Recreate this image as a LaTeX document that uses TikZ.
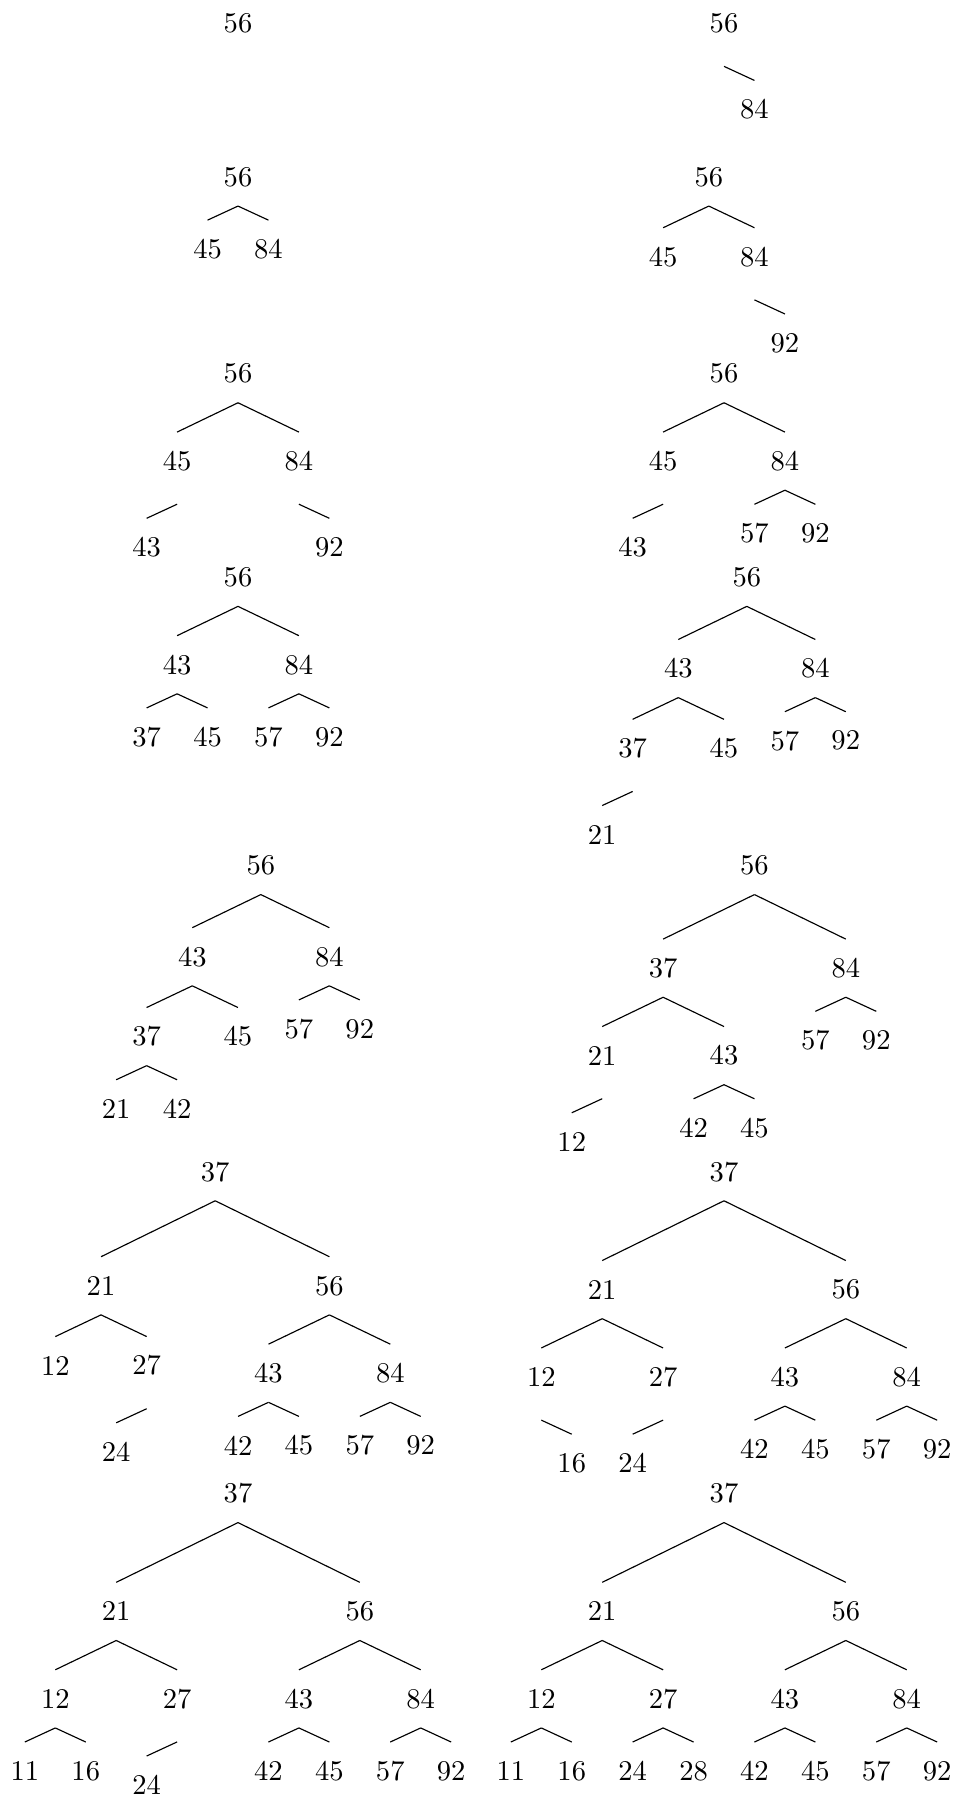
\documentclass[tikz,border=0pt]{standalone}
\usetikzlibrary{calc}
% one unit = one pixel step of the layout; y grows downwards
\def\uu{30.45}% horizontal unit between sibling slots
\tikzset{
  nd/.style={inner sep=0pt, minimum height=19.95pt, font=\fontsize{10}{12}\selectfont},
  link/.style={line width=0.4pt}
}
% child of a node that has two children
\newcommand\twokid[4]{%
  \node[nd] (#2) at ($(#1)+({#3*\uu},{57+abs(#3)*\uu/2})$) {#4};
  \draw[link] (#1.south) -- (#2.north);}
% only child of its parent: sits lower, edge starts lower
\newcommand\onekid[4]{%
  \node[nd] (#2) at ($(#1)+({#3*\uu},{71+abs(#3)*\uu/2})$) {#4};
  \draw[link] ([yshift=-4.9pt]#1.south) -- (#2.north);}
\begin{document}
\begin{tikzpicture}[x=0.35pt,y=-0.35pt]
\useasboundingbox (0,0) rectangle (963,1795);
\def\Ra{23.3}\def\Rb{177}\def\Rc{373.7}\def\Rd{577.3}
\def\Re{865.5}\def\Rf{1171.7}\def\Rg{1493.5}

% ---- row 1
\node[nd] (A56) at (238,\Ra) {56};

\node[nd] (B56) at (724,\Ra) {56};
\onekid{B56}{B84}{1}{84}

% ---- row 2
\node[nd] (C56) at (238,\Rb) {56};
\twokid{C56}{C45}{-1}{45}
\twokid{C56}{C84}{1}{84}

\node[nd] (D56) at (708.8,\Rb) {56};
\twokid{D56}{D45}{-1.5}{45}
\twokid{D56}{D84}{1.5}{84}
\onekid{D84}{D92}{1}{92}

% ---- row 3
\node[nd] (E56) at (238,\Rc) {56};
\twokid{E56}{E45}{-2}{45}
\twokid{E56}{E84}{2}{84}
\onekid{E45}{E43}{-1}{43}
\onekid{E84}{E92}{1}{92}

\node[nd] (F56) at (724,\Rc) {56};
\twokid{F56}{F45}{-2}{45}
\twokid{F56}{F84}{2}{84}
\onekid{F45}{F43}{-1}{43}
\twokid{F84}{F57}{-1}{57}
\twokid{F84}{F92}{1}{92}

% ---- row 4
\node[nd] (G56) at (238,\Rd) {56};
\twokid{G56}{G43}{-2}{43}
\twokid{G56}{G84}{2}{84}
\twokid{G43}{G37}{-1}{37}
\twokid{G43}{G45}{1}{45}
\twokid{G84}{G57}{-1}{57}
\twokid{G84}{G92}{1}{92}

\node[nd] (H56) at (746.8,\Rd) {56};
\twokid{H56}{H43}{-2.25}{43}
\twokid{H56}{H84}{2.25}{84}
\twokid{H43}{H37}{-1.5}{37}
\twokid{H43}{H45}{1.5}{45}
\twokid{H84}{H57}{-1}{57}
\twokid{H84}{H92}{1}{92}
\onekid{H37}{H21}{-1}{21}

% ---- row 5
\node[nd] (I56) at (260.8,\Re) {56};
\twokid{I56}{I43}{-2.25}{43}
\twokid{I56}{I84}{2.25}{84}
\twokid{I43}{I37}{-1.5}{37}
\twokid{I43}{I45}{1.5}{45}
\twokid{I84}{I57}{-1}{57}
\twokid{I84}{I92}{1}{92}
\twokid{I37}{I21}{-1}{21}
\twokid{I37}{I42}{1}{42}

\node[nd] (J56) at (754.45,\Re) {56};
\twokid{J56}{J37}{-3}{37}
\twokid{J56}{J84}{3}{84}
\twokid{J37}{J21}{-2}{21}
\twokid{J37}{J43}{2}{43}
\twokid{J84}{J57}{-1}{57}
\twokid{J84}{J92}{1}{92}
\onekid{J21}{J12}{-1}{12}
\twokid{J43}{J42}{-1}{42}
\twokid{J43}{J45}{1}{45}

% ---- row 6
\node[nd] (K37) at (215.2,\Rf) {37};
\twokid{K37}{K21}{-3.75}{21}
\twokid{K37}{K56}{3.75}{56}
\twokid{K21}{K12}{-1.5}{12}
\twokid{K21}{K27}{1.5}{27}
\onekid{K27}{K24}{-1}{24}
\twokid{K56}{K43}{-2}{43}
\twokid{K56}{K84}{2}{84}
\twokid{K43}{K42}{-1}{42}
\twokid{K43}{K45}{1}{45}
\twokid{K84}{K57}{-1}{57}
\twokid{K84}{K92}{1}{92}

\node[nd] (L37) at (724,\Rf) {37};
\twokid{L37}{L21}{-4}{21}
\twokid{L37}{L56}{4}{56}
\twokid{L21}{L12}{-2}{12}
\twokid{L21}{L27}{2}{27}
\onekid{L12}{L16}{1}{16}
\onekid{L27}{L24}{-1}{24}
\twokid{L56}{L43}{-2}{43}
\twokid{L56}{L84}{2}{84}
\twokid{L43}{L42}{-1}{42}
\twokid{L43}{L45}{1}{45}
\twokid{L84}{L57}{-1}{57}
\twokid{L84}{L92}{1}{92}

% ---- row 7
\node[nd] (M37) at (238,\Rg) {37};
\twokid{M37}{M21}{-4}{21}
\twokid{M37}{M56}{4}{56}
\twokid{M21}{M12}{-2}{12}
\twokid{M21}{M27}{2}{27}
\twokid{M12}{M11}{-1}{11}
\twokid{M12}{M16}{1}{16}
\onekid{M27}{M24}{-1}{24}
\twokid{M56}{M43}{-2}{43}
\twokid{M56}{M84}{2}{84}
\twokid{M43}{M42}{-1}{42}
\twokid{M43}{M45}{1}{45}
\twokid{M84}{M57}{-1}{57}
\twokid{M84}{M92}{1}{92}

\node[nd] (N37) at (724,\Rg) {37};
\twokid{N37}{N21}{-4}{21}
\twokid{N37}{N56}{4}{56}
\twokid{N21}{N12}{-2}{12}
\twokid{N21}{N27}{2}{27}
\twokid{N12}{N11}{-1}{11}
\twokid{N12}{N16}{1}{16}
\twokid{N27}{N24}{-1}{24}
\twokid{N27}{N28}{1}{28}
\twokid{N56}{N43}{-2}{43}
\twokid{N56}{N84}{2}{84}
\twokid{N43}{N42}{-1}{42}
\twokid{N43}{N45}{1}{45}
\twokid{N84}{N57}{-1}{57}
\twokid{N84}{N92}{1}{92}
\end{tikzpicture}
\end{document}
